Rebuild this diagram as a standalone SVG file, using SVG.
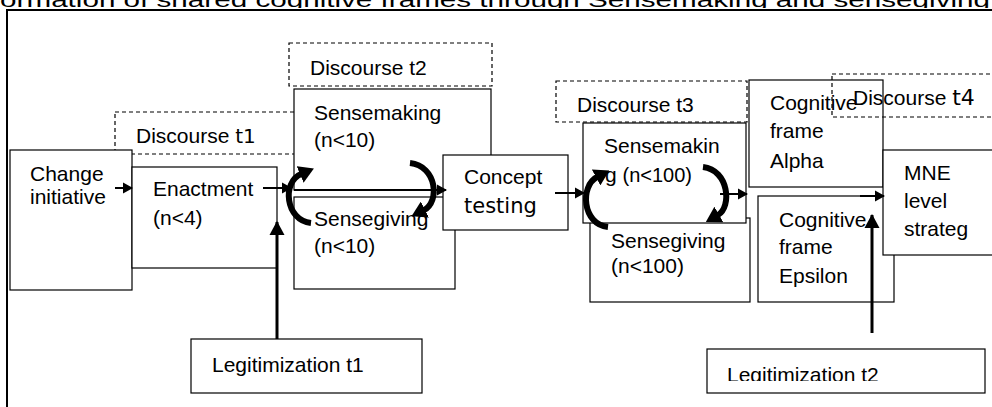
<svg xmlns="http://www.w3.org/2000/svg" width="992" height="407" viewBox="0 0 992 407">
<style>
.box{fill:#fff;stroke:#000;stroke-width:1.2}
.dash{fill:none;stroke:#000;stroke-width:1.2;stroke-dasharray:4 3}
text{font-family:"Liberation Sans",Arial,sans-serif;font-size:21px;fill:#000}
.dv{font-family:"DejaVu Sans",Verdana,sans-serif}
.ln{fill:none;stroke:#000;stroke-width:2}
.lnv{fill:none;stroke:#000;stroke-width:3}
.cv{fill:none;stroke:#000;stroke-width:6}
</style>
<defs>
<marker id="ah" markerUnits="userSpaceOnUse" markerWidth="10" markerHeight="12" refX="9" refY="6" orient="auto"><path d="M0,0.5 L10,6 L0,11.5 z" fill="#000"/></marker>
<marker id="ahv" markerUnits="userSpaceOnUse" markerWidth="14" markerHeight="16" refX="13" refY="8" orient="auto"><path d="M0,0.5 L14,8 L0,15.5 z" fill="#000"/></marker>
<marker id="ahc" markerUnits="userSpaceOnUse" markerWidth="15" markerHeight="18" refX="1" refY="9" orient="auto"><path d="M0,0 L15,9 L0,18 z" fill="#000"/></marker>
<clipPath id="tclip"><rect x="0" y="0" width="992" height="8"/></clipPath>
<clipPath id="l2clip"><rect x="700" y="340" width="292" height="41"/></clipPath>
</defs>

<g id="title" clip-path="url(#tclip)">
<text x="-18" y="7" font-size="29" textLength="1008" lengthAdjust="spacingAndGlyphs">Formation of shared cognitive frames through Sensemaking and sensegiving</text>
</g>

<path d="M7 407 L7 10 L992 10" fill="none" stroke="#000" stroke-width="2"/>

<g id="discourse-t1"><rect class="dash" x="115" y="112" width="185" height="42"/>
<text x="136" y="143" font-size="19">Discourse <tspan class="dv" font-size="20">t1</tspan></text></g>

<g id="discourse-t2"><rect class="dash" x="289" y="43" width="203" height="43"/>
<text x="310" y="75" font-size="21.5">Discourse t2</text></g>

<g id="change-initiative"><rect class="box" x="10" y="150" width="122" height="140"/>
<text x="30" y="181">Change</text><text x="30" y="204">initiative</text></g>

<g id="enactment"><rect class="box" x="132" y="167" width="145" height="101"/>
<text x="153" y="196">Enactment</text><text x="153" y="225" font-size="22">(n&lt;4)</text></g>

<g id="sensemaking-t2"><rect class="box" x="294" y="89" width="197" height="101"/>
<text x="314" y="120">Sensemaking</text><text x="314" y="147" font-size="22">(n&lt;10)</text></g>

<g id="sensegiving-t2"><rect class="box" x="294" y="197" width="161" height="92"/>
<text x="314" y="226">Sensegiving</text><text x="314" y="253" font-size="22">(n&lt;10)</text></g>

<g id="concept-testing"><rect class="box" x="443" y="155" width="125" height="75"/>
<text x="464" y="184">Concept</text><text x="464" y="213" class="dv">testing</text></g>

<g id="discourse-t3"><rect class="dash" x="556" y="81" width="191" height="41"/>
<text x="577" y="112" font-size="23.5">Discourse t3</text></g>

<g id="sensegiving-t3"><rect class="box" x="590" y="218" width="160" height="84"/>
<text x="611" y="248">Sensegiving</text><text x="611" y="273" font-size="20">(n&lt;100)</text></g>

<g id="sensemaking-t3"><rect class="box" x="583" y="123" width="163" height="100"/>
<text x="604" y="153">Sensemakin</text><text x="605" y="182">g <tspan font-size="20">(n&lt;100)</tspan></text></g>

<g id="cognitive-alpha"><rect class="box" x="749" y="80" width="134" height="107"/>
<text x="770" y="110">Cognitive</text><text x="770" y="138">frame</text><text x="770" y="168" font-size="23">Alpha</text></g>

<g id="cognitive-epsilon"><rect class="box" x="758" y="196" width="136" height="106"/>
<text x="779" y="227">Cognitive</text><text x="779" y="254">frame</text><text x="779" y="283" font-size="23">Epsilon</text></g>

<g id="mne"><rect class="box" x="883" y="150" width="120" height="105"/>
<text x="904" y="180">MNE</text><text x="904" y="208">level</text><text x="904" y="236">strateg</text></g>

<g id="discourse-t4"><rect class="dash" x="832" y="74" width="170" height="43"/>
<text x="853" y="105">Discourse <tspan class="dv" font-size="22">t4</tspan></text></g>

<g id="legitimization-t1"><rect class="box" x="191" y="339" width="231" height="54"/>
<text x="212" y="372" font-size="23.5">Legitimization t1</text></g>

<g id="legitimization-t2"><rect class="box" x="707" y="349" width="278" height="44"/>
<text x="727" y="382" font-size="23.5" clip-path="url(#l2clip)">Legitimization t2</text></g>

<g id="connectors">
<path class="ln" d="M115 188 L132 188" marker-end="url(#ah)"/>
<path class="ln" d="M263 188 L291 188" marker-end="url(#ah)"/>
<path class="ln" d="M294 190 L446 190" marker-end="url(#ah)"/>
<path class="ln" d="M555 193 L584 193" marker-end="url(#ah)"/>
<path class="ln" d="M720 194 L747 194" marker-end="url(#ah)"/>
<path class="ln" d="M860 196 L884 196" marker-end="url(#ah)"/>
<path class="lnv" d="M277 339 L277 222" marker-end="url(#ahv)"/>
<path class="lnv" d="M872 333 L872 215" marker-end="url(#ahv)"/>
<path class="cv" d="M311 223 C285 220, 282 182, 301 174" marker-end="url(#ahc)"/>
<path class="cv" d="M410 163 C437 166, 440 202, 424 210" marker-end="url(#ahc)"/>
<path class="cv" d="M608 227 C582 224, 580 186, 597 177" marker-end="url(#ahc)"/>
<path class="cv" d="M703 167 C729 170, 732 207, 718 215" marker-end="url(#ahc)"/>
</g>
</svg>
